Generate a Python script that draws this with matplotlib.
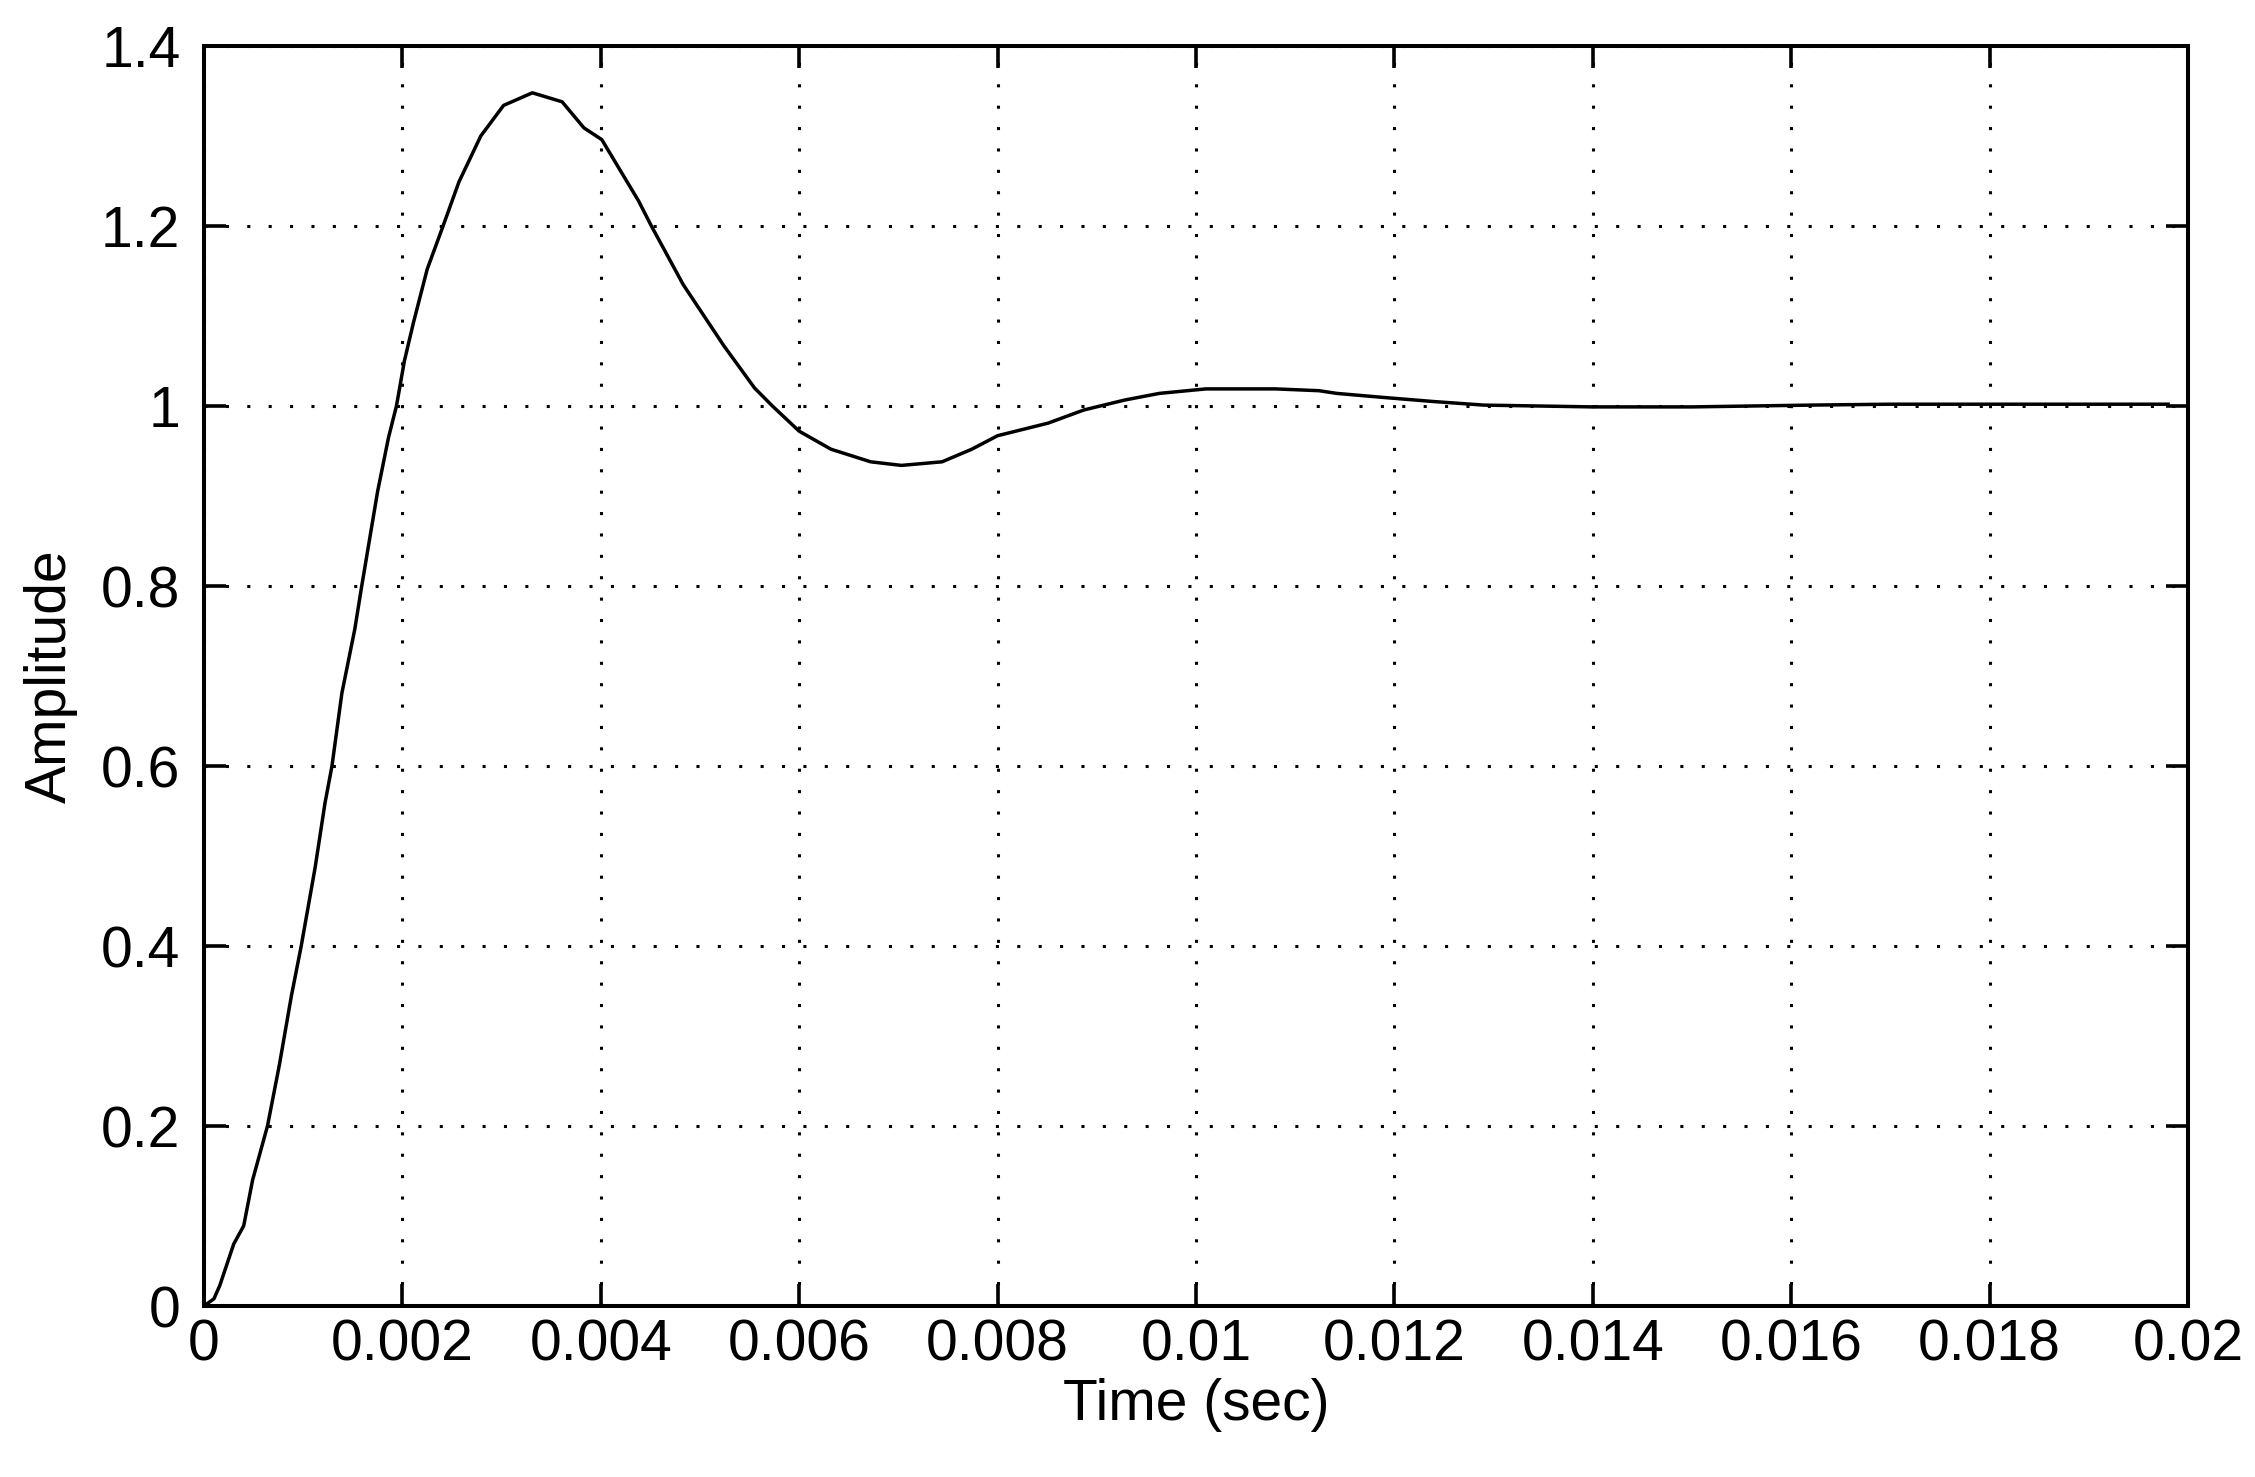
import matplotlib
matplotlib.use("Agg")
import matplotlib.pyplot as plt

# step response (time in s, amplitude)
t = [0, 0.0001, 0.00016, 0.0003, 0.0004, 0.00049, 0.00064, 0.00076, 0.00088,
     0.00098, 0.00112, 0.00122, 0.00129, 0.00139, 0.00152, 0.00159, 0.00175,
     0.00186, 0.00194, 0.00202, 0.00211, 0.00225, 0.00241, 0.00257, 0.00279,
     0.00302, 0.00331, 0.00361, 0.00383, 0.00401, 0.00438, 0.00451, 0.00483,
     0.00524, 0.00555, 0.00573, 0.006, 0.00632, 0.00672, 0.00703, 0.00744,
     0.00774, 0.008, 0.00851, 0.00887, 0.00928, 0.00963, 0.0101, 0.0108,
     0.01124, 0.01142, 0.01188, 0.01239, 0.0129, 0.0140, 0.0150, 0.0162,
     0.0170, 0.0180, 0.0198]
amp = [0, 0.008, 0.023, 0.069, 0.089, 0.14, 0.2, 0.268, 0.344,
       0.4, 0.487, 0.559, 0.6, 0.681, 0.752, 0.8, 0.905,
       0.965, 1.0, 1.05, 1.092, 1.152, 1.2, 1.249, 1.30,
       1.334, 1.348, 1.338, 1.309, 1.296, 1.228, 1.2, 1.135,
       1.067, 1.02, 1.0, 0.972, 0.952, 0.938, 0.934, 0.938,
       0.952, 0.967, 0.981, 0.9956, 1.0066, 1.014, 1.019, 1.019,
       1.017, 1.014, 1.0096, 1.005, 1.001, 0.999, 0.999, 1.001,
       1.002, 1.002, 1.002]

xticks = [0, 0.002, 0.004, 0.006, 0.008, 0.01, 0.012, 0.014, 0.016, 0.018, 0.02]
xticklabels = ["0", "0.002", "0.004", "0.006", "0.008", "0.01", "0.012",
               "0.014", "0.016", "0.018", "0.02"]
yticks = [0, 0.2, 0.4, 0.6, 0.8, 1.0, 1.2, 1.4]
yticklabels = ["0", "0.2", "0.4", "0.6", "0.8", "1", "1.2", "1.4"]

plt.rcParams["font.family"] = ["Liberation Sans", "DejaVu Sans"]

W, H = 2255, 1477
fig = plt.figure(figsize=(W / 100, H / 100), dpi=100)
ax = fig.add_axes([204 / W, 1 - 1306 / H, 1984 / W, 1260 / H])

ax.plot(t, amp, color="black", lw=2.5, solid_joinstyle="round")

ax.set_xlim(0, 0.02)
ax.set_ylim(0, 1.4)
ax.set_xticks(xticks)
ax.set_xticklabels(xticklabels)
ax.set_yticks(yticks)
ax.set_yticklabels(yticklabels)

ax.grid(True, color="black", linestyle=(0, (1, 6)), linewidth=2.2)
ax.tick_params(direction="in", length=16, width=2.6, top=True, right=True,
               labelsize=41, colors="black")
ax.tick_params(axis="x", pad=9)
ax.tick_params(axis="y", pad=17)
for s in ax.spines.values():
    s.set_linewidth(2.9)
    s.set_color("black")

ax.set_xlabel("Time (sec)", fontsize=41, labelpad=4)
ax.set_ylabel("Amplitude", fontsize=41, labelpad=17)

fig.savefig("out.png", dpi=100)
